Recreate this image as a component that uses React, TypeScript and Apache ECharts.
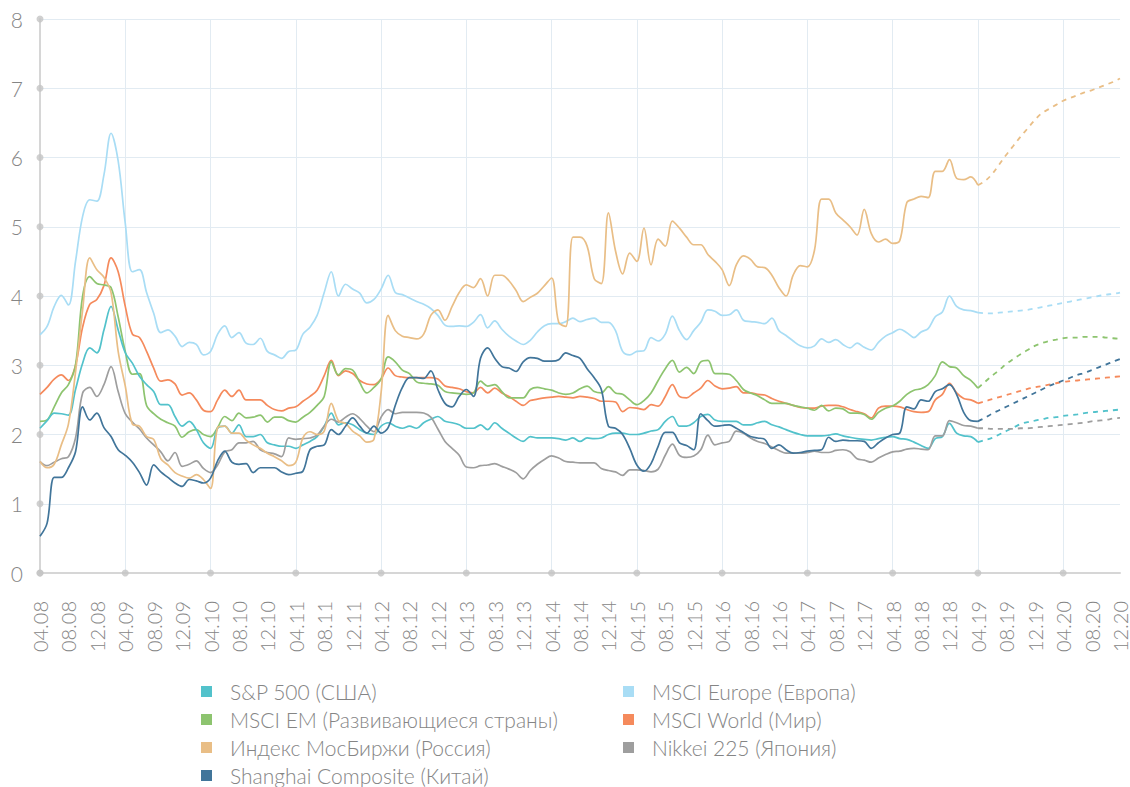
import React, { useEffect, useRef } from "react";
import * as echarts from "echarts";

// Monthly categories 04.08 … 12.20
const CATEGORIES: string[] = [];
for (let y = 8; y <= 20; y++) {
  for (let m = 1; m <= 12; m++) {
    if (y === 8 && m < 4) continue;
    CATEGORIES.push(`${String(m).padStart(2, "0")}.${String(y).padStart(2, "0")}`);
  }
}

const Y_TICKS = [0, 1, 2, 3, 4, 5, 6, 7, 8];
const X_TICK_CATS = ["04.08", "04.09", "04.10", "04.11", "04.12", "04.13", "04.14", "04.15", "04.16", "04.17", "04.18", "04.19", "04.20"];

const NAMES = {
  sp: "S&P 500 (США)",
  eu: "MSCI Europe (Европа)",
  em: "MSCI EM (Развивающиеся страны)",
  wo: "MSCI World (Мир)",
  mos: "Индекс МосБиржи (Россия)",
  nk: "Nikkei 225 (Япония)",
  sh: "Shanghai Composite (Китай)",
};

// Historical values 04.08 … 04.19
const SP = [
  2.09, 2.2, 2.31, 2.3, 2.28, 2.65, 3.03, 3.25, 3.18, 3.51,
  3.85, 3.51, 3.18, 3.03, 2.84, 2.72, 2.62, 2.43, 2.43, 2.26,
  2.12, 2.19, 2.07, 1.88, 1.8, 2.09, 2.12, 2.02, 2.14, 1.97,
  1.97, 2.0, 1.88, 1.85, 1.83, 1.83, 1.8, 1.85, 1.9, 1.97,
  2.12, 2.31, 2.14, 2.17, 2.14, 2.07, 2.02, 2.0, 2.12, 2.17,
  2.12, 2.09, 2.12, 2.09, 2.17, 2.22, 2.26, 2.19, 2.17, 2.14,
  2.09, 2.09, 2.14, 2.07, 2.17, 2.09, 2.02, 1.95, 1.9, 1.97,
  1.95, 1.95, 1.95, 1.94, 1.92, 1.95, 1.9, 1.95, 1.94, 1.95,
  2.0, 2.02, 2.02, 2.0, 2.0, 2.02, 2.05, 2.07, 2.19, 2.26,
  2.12, 2.12, 2.17, 2.26, 2.29, 2.21, 2.19, 2.19, 2.19, 2.14,
  2.14, 2.17, 2.19, 2.14, 2.11, 2.07, 2.03, 2.0, 1.98, 1.98,
  1.98, 1.99, 2.01, 1.98, 1.96, 1.94, 1.93, 1.92, 1.94, 1.96,
  1.97, 1.94, 1.93, 1.89, 1.84, 1.8, 1.94, 1.97, 2.16, 2.02,
  1.98, 1.97, 1.89,
];
const EU = [
  3.44, 3.56, 3.85, 4.01, 3.87, 4.5, 5.15, 5.39, 5.37, 5.75,
  6.35, 5.95, 5.05, 4.35, 4.38, 4.05, 3.75, 3.47, 3.51, 3.42,
  3.27, 3.33, 3.3, 3.15, 3.2, 3.45, 3.57, 3.4, 3.47, 3.32,
  3.3, 3.39, 3.2, 3.15, 3.1, 3.2, 3.22, 3.45, 3.55, 3.72,
  4.05, 4.35, 4.0, 4.17, 4.1, 4.04, 3.9, 3.95, 4.1, 4.3,
  4.05, 4.02, 3.97, 3.92, 3.88, 3.82, 3.72, 3.58, 3.56, 3.57,
  3.56, 3.62, 3.73, 3.54, 3.64, 3.52, 3.42, 3.35, 3.3, 3.36,
  3.48, 3.57, 3.6, 3.6, 3.63, 3.68, 3.63, 3.66, 3.68, 3.62,
  3.62, 3.5, 3.2, 3.15, 3.2, 3.21, 3.4, 3.35, 3.45, 3.71,
  3.5, 3.37, 3.5, 3.62, 3.8, 3.78, 3.72, 3.73, 3.8, 3.65,
  3.63, 3.62, 3.6, 3.68, 3.5, 3.43, 3.35, 3.28, 3.25, 3.28,
  3.38, 3.33, 3.37, 3.3, 3.25, 3.32, 3.26, 3.22, 3.33, 3.42,
  3.47, 3.52, 3.47, 3.4, 3.48, 3.53, 3.7, 3.77, 4.0, 3.85,
  3.8, 3.79, 3.76,
];
const EM = [
  2.19, 2.21, 2.4, 2.6, 2.72, 3.0, 4.0, 4.28, 4.18, 4.16,
  4.12, 3.7, 3.2, 2.87, 2.88, 2.42, 2.3, 2.22, 2.17, 2.12,
  1.96, 2.04, 2.07, 2.0, 1.97, 2.1, 2.26, 2.2, 2.31, 2.24,
  2.25, 2.28, 2.18, 2.25, 2.25, 2.2, 2.18, 2.25, 2.32, 2.42,
  2.55, 3.05, 2.86, 2.95, 2.93, 2.75, 2.6, 2.68, 2.8, 3.12,
  3.05, 2.93, 2.88, 2.76, 2.74, 2.73, 2.71, 2.62, 2.6, 2.59,
  2.58, 2.6, 2.77, 2.7, 2.72, 2.62, 2.53, 2.53, 2.53, 2.65,
  2.68, 2.66, 2.64, 2.6, 2.58, 2.6, 2.66, 2.7, 2.62, 2.6,
  2.69, 2.6, 2.58, 2.5, 2.43, 2.49, 2.6, 2.78, 2.95, 3.07,
  2.9, 2.97, 2.88, 3.05, 3.07, 2.88, 2.88, 2.87, 2.78, 2.65,
  2.6, 2.56, 2.5, 2.45, 2.45, 2.45, 2.42, 2.4, 2.38, 2.35,
  2.42, 2.34, 2.38, 2.37, 2.31, 2.31, 2.29, 2.22, 2.32, 2.38,
  2.41, 2.48, 2.58, 2.64, 2.66, 2.72, 2.85, 3.05, 2.98, 2.96,
  2.85, 2.78, 2.67,
];
const WO = [
  2.58, 2.68, 2.8, 2.86, 2.78, 3.0, 3.55, 3.88, 3.95, 4.15,
  4.55, 4.35, 3.85, 3.45, 3.4, 3.2, 2.96, 2.77, 2.79, 2.73,
  2.57, 2.6, 2.5, 2.35, 2.33, 2.5, 2.64, 2.55, 2.64, 2.5,
  2.5, 2.5, 2.42, 2.36, 2.34, 2.38, 2.4, 2.48, 2.55, 2.64,
  2.85, 3.07, 2.85, 2.92, 2.88, 2.78, 2.73, 2.72, 2.8, 2.96,
  2.85, 2.83, 2.82, 2.82, 2.82, 2.82, 2.8, 2.7, 2.68, 2.66,
  2.62, 2.6, 2.68, 2.6, 2.67, 2.6, 2.55, 2.48, 2.42, 2.49,
  2.51, 2.53, 2.54, 2.55, 2.54, 2.53, 2.55, 2.54, 2.52, 2.48,
  2.48, 2.47, 2.33, 2.39, 2.38, 2.36, 2.43, 2.41, 2.55, 2.72,
  2.55, 2.53, 2.6, 2.67, 2.78, 2.7, 2.66, 2.67, 2.69, 2.6,
  2.6, 2.58, 2.57, 2.52, 2.48, 2.45, 2.42, 2.39, 2.38, 2.38,
  2.41, 2.42, 2.42, 2.4, 2.36, 2.33, 2.3, 2.24, 2.38, 2.41,
  2.41, 2.4, 2.36, 2.33, 2.32, 2.33, 2.5, 2.58, 2.74, 2.6,
  2.52, 2.5, 2.45,
];
const MOS = [
  1.61, 1.52, 1.57, 1.85, 2.15, 2.9, 3.8, 4.55, 4.38, 4.27,
  4.05, 3.2, 2.7, 2.15, 2.12, 1.97, 1.93, 1.65, 1.56, 1.45,
  1.4, 1.37, 1.42, 1.35, 1.22, 2.1, 2.12, 2.02, 2.02, 1.92,
  1.85, 1.8, 1.73, 1.68, 1.62, 1.55, 1.6, 1.95, 2.04, 2.0,
  2.05, 2.45, 2.2, 2.16, 2.05, 1.98, 1.89, 1.93, 2.6, 3.72,
  3.5, 3.42, 3.4, 3.38, 3.45, 3.72, 3.8, 3.65, 3.85, 4.05,
  4.16, 4.12, 4.25, 4.0, 4.3, 4.3, 4.22, 4.08, 3.92, 3.98,
  4.04, 4.15, 4.26, 3.62, 3.56, 4.85, 4.85, 4.72, 4.25, 4.18,
  5.2, 4.65, 4.32, 4.62, 4.5, 4.98, 4.45, 4.82, 4.72, 5.08,
  4.98, 4.85, 4.74, 4.74, 4.6, 4.5, 4.38, 4.15, 4.45, 4.58,
  4.53, 4.42, 4.41, 4.3, 4.12, 4.0, 4.3, 4.44, 4.42, 4.66,
  5.4, 5.4, 5.2, 5.1, 5.0, 4.88, 5.25, 4.9, 4.78, 4.82,
  4.76, 4.8, 5.35, 5.4, 5.44, 5.42, 5.8, 5.8, 5.97, 5.7,
  5.68, 5.72, 5.6,
];
const NK = [
  1.61, 1.55, 1.6, 1.65, 1.68, 1.95, 2.6, 2.68, 2.55, 2.72,
  2.98, 2.62, 2.3, 2.18, 2.08, 1.95, 1.85, 1.75, 1.62, 1.74,
  1.54, 1.57, 1.62, 1.51, 1.45, 1.56, 1.75, 1.78, 1.88, 1.88,
  1.9, 1.78, 1.74, 1.72, 1.68, 1.95, 1.93, 1.94, 1.95, 1.99,
  2.12, 2.22, 2.18, 2.25, 2.3, 2.23, 2.12, 2.04, 2.25, 2.36,
  2.3, 2.32, 2.32, 2.32, 2.31, 2.25, 2.08, 1.9, 1.8, 1.7,
  1.53, 1.52, 1.55, 1.56, 1.58, 1.54, 1.5, 1.45, 1.36, 1.48,
  1.57, 1.64, 1.69, 1.66, 1.61, 1.6, 1.59, 1.59, 1.59, 1.51,
  1.48, 1.46, 1.41, 1.49, 1.49, 1.48, 1.46, 1.5, 1.7, 1.86,
  1.7, 1.67, 1.69, 1.78, 1.99, 1.85, 1.88, 1.9, 2.05, 2.02,
  1.95, 1.9, 1.87, 1.82, 1.77, 1.73, 1.73, 1.73, 1.74, 1.76,
  1.74, 1.74, 1.77, 1.78, 1.75, 1.65, 1.63, 1.6, 1.66, 1.71,
  1.75, 1.76, 1.79, 1.8, 1.79, 1.78, 1.98, 1.98, 2.2, 2.17,
  2.13, 2.12, 2.09,
];
const SH = [
  0.53, 0.72, 1.38, 1.38, 1.52, 1.75, 2.4, 2.21, 2.31, 2.1,
  1.97, 1.78, 1.7, 1.6, 1.45, 1.27, 1.56, 1.46, 1.38, 1.3,
  1.25, 1.35, 1.33, 1.3, 1.37, 1.62, 1.76, 1.6, 1.57, 1.58,
  1.45, 1.52, 1.52, 1.52, 1.46, 1.42, 1.44, 1.47, 1.78, 1.83,
  1.85, 2.07, 2.0, 2.12, 2.24, 2.12, 2.02, 2.12, 2.02, 2.1,
  2.42, 2.68, 2.82, 2.82, 2.81, 2.92, 2.65, 2.45, 2.4, 2.55,
  2.65, 2.55, 3.1, 3.25, 3.1, 2.98, 2.96, 2.91, 3.05, 3.11,
  3.1, 3.06, 3.06, 3.08, 3.18, 3.14, 3.1, 2.95, 2.82, 2.65,
  2.12, 2.09, 2.0, 1.8, 1.56, 1.47, 1.58, 1.83, 2.03, 2.03,
  1.88, 1.84, 1.78, 2.3, 2.2, 2.12, 2.13, 2.14, 2.09, 2.03,
  1.97, 1.95, 1.93, 1.8, 1.85, 1.78, 1.73, 1.74, 1.76, 1.77,
  1.78, 1.96, 1.9, 1.92, 1.91, 1.91, 1.9, 1.8, 1.88, 1.95,
  2.0, 2.02, 2.4, 2.37, 2.5, 2.48, 2.62, 2.66, 2.72, 2.58,
  2.32, 2.2, 2.19,
];

// Forecast values 04.19 … 12.20
const SP_F = [1.89, 1.92, 1.95, 2.0, 2.05, 2.1, 2.15, 2.18, 2.2, 2.22, 2.24, 2.25, 2.27, 2.28, 2.29, 2.31, 2.32, 2.33, 2.34, 2.35, 2.36];
const EU_F = [3.76, 3.75, 3.75, 3.76, 3.77, 3.78, 3.79, 3.8, 3.82, 3.84, 3.86, 3.88, 3.9, 3.92, 3.94, 3.96, 3.98, 4.0, 4.02, 4.03, 4.05];
const EM_F = [2.67, 2.76, 2.85, 2.93, 3.02, 3.09, 3.16, 3.22, 3.28, 3.32, 3.35, 3.37, 3.39, 3.4, 3.4, 3.41, 3.41, 3.41, 3.4, 3.39, 3.38];
const WO_F = [2.45, 2.48, 2.51, 2.54, 2.57, 2.6, 2.63, 2.66, 2.68, 2.7, 2.72, 2.74, 2.76, 2.77, 2.78, 2.79, 2.8, 2.81, 2.82, 2.83, 2.84];
const MOS_F = [5.6, 5.66, 5.76, 5.9, 6.04, 6.17, 6.3, 6.42, 6.54, 6.64, 6.7, 6.76, 6.82, 6.86, 6.9, 6.94, 6.97, 7.01, 7.05, 7.09, 7.14];
const NK_F = [2.09, 2.09, 2.08, 2.08, 2.08, 2.08, 2.09, 2.09, 2.1, 2.11, 2.12, 2.13, 2.14, 2.15, 2.16, 2.17, 2.19, 2.2, 2.21, 2.23, 2.24];
const SH_F = [2.19, 2.24, 2.3, 2.35, 2.4, 2.45, 2.5, 2.55, 2.6, 2.65, 2.7, 2.74, 2.78, 2.82, 2.86, 2.89, 2.93, 2.97, 3.01, 3.05, 3.09];

const COLORS = {
  sp: "#52C2CB",
  eu: "#A9DDF5",
  em: "#8DC46F",
  wo: "#F58A5C",
  mos: "#E9BE86",
  nk: "#9E9E9E",
  sh: "#41759A",
};

const FONT = "Lato, 'Open Sans', sans-serif";

export default function App() {
  const ref = useRef<HTMLDivElement>(null);

  useEffect(() => {
    if (!ref.current) return;
    const chart = echarts.init(ref.current, undefined, { renderer: "svg" });

    const forecastStart = SP.length - 1;
    const pad = (arr: number[]) => [...new Array(forecastStart).fill(null), ...arr];

    const hist = (key: keyof typeof NAMES, data: number[]) => ({
      type: "line",
      name: NAMES[key],
      data,
      smooth: 0.35,
      showSymbol: false,
      symbol: "none",
      color: COLORS[key],
      lineStyle: { width: 1.7, color: COLORS[key] },
      itemStyle: { color: COLORS[key] },
      z: 3,
    });
    const fc = (key: keyof typeof NAMES, data: number[]) => ({
      type: "line",
      name: NAMES[key],
      data: pad(data),
      smooth: 0.35,
      showSymbol: false,
      symbol: "none",
      color: COLORS[key],
      lineStyle: { width: 1.8, color: COLORS[key], type: [5, 5] },
      itemStyle: { color: COLORS[key] },
      z: 3,
    });

    const dots = [
      ...Y_TICKS.map((v) => [0, v]),
      ...X_TICK_CATS.map((c) => [CATEGORIES.indexOf(c), 0]),
    ];

    const legendCommon = {
      orient: "vertical",
      icon: "rect",
      itemWidth: 11,
      itemHeight: 11,
      itemGap: 7,
      height: 106,
      selectedMode: false,
      padding: 0,
      textStyle: {
        fontFamily: FONT,
        fontSize: 21,
        fontWeight: 300,
        lineHeight: 21,
        color: "#858585",
        padding: [0, 0, 0, 13],
      },
    };

    chart.setOption({
      animation: false,
      backgroundColor: "#ffffff",
      grid: { left: 40, right: 9, top: 19, bottom: 214, containLabel: false },
      legend: [
        { ...legendCommon, left: 201, top: 681, data: [NAMES.sp, NAMES.em, NAMES.mos, NAMES.sh] },
        { ...legendCommon, left: 623, top: 681, data: [NAMES.eu, NAMES.wo, NAMES.nk] },
      ],
      xAxis: {
        type: "category",
        data: CATEGORIES,
        boundaryGap: false,
        axisLine: { show: true, lineStyle: { color: "#d6d6d6", width: 2 } },
        axisTick: { show: false },
        axisLabel: {
          interval: 3,
          rotate: 90,
          margin: 28,
          fontFamily: FONT,
          fontSize: 20,
          lineHeight: 14,
          fontWeight: 300,
          color: "#858585",
        },
        splitLine: {
          show: true,
          interval: (index: number) => index % 12 === 0,
          lineStyle: { color: "#E2EBF2", width: 1 },
        },
      },
      yAxis: {
        type: "value",
        min: 0,
        max: 8,
        interval: 1,
        axisLine: { show: true, lineStyle: { color: "#d6d6d6", width: 2 } },
        axisTick: { show: false },
        axisLabel: {
          margin: 17,
          fontFamily: FONT,
          fontSize: 21,
          fontWeight: 300,
          color: "#858585",
        },
        splitLine: { show: true, lineStyle: { color: "#E2EBF2", width: 1 } },
      },
      series: [
        hist("eu", EU),
        fc("eu", EU_F),
        hist("wo", WO),
        fc("wo", WO_F),
        hist("em", EM),
        fc("em", EM_F),
        hist("sp", SP),
        fc("sp", SP_F),
        hist("nk", NK),
        fc("nk", NK_F),
        hist("mos", MOS),
        fc("mos", MOS_F),
        hist("sh", SH),
        fc("sh", SH_F),
        {
          type: "scatter",
          name: "axis-dots",
          data: dots,
          symbolSize: 7,
          clip: false,
          silent: true,
          itemStyle: { color: "#c4c4c4" },
          z: 5,
        },
      ],
    });

    return () => chart.dispose();
  }, []);

  return (
    <div
      ref={ref}
      style={{ position: "absolute", left: 0, top: 0, width: 1130, height: 787, background: "#fff" }}
    />
  );
}
